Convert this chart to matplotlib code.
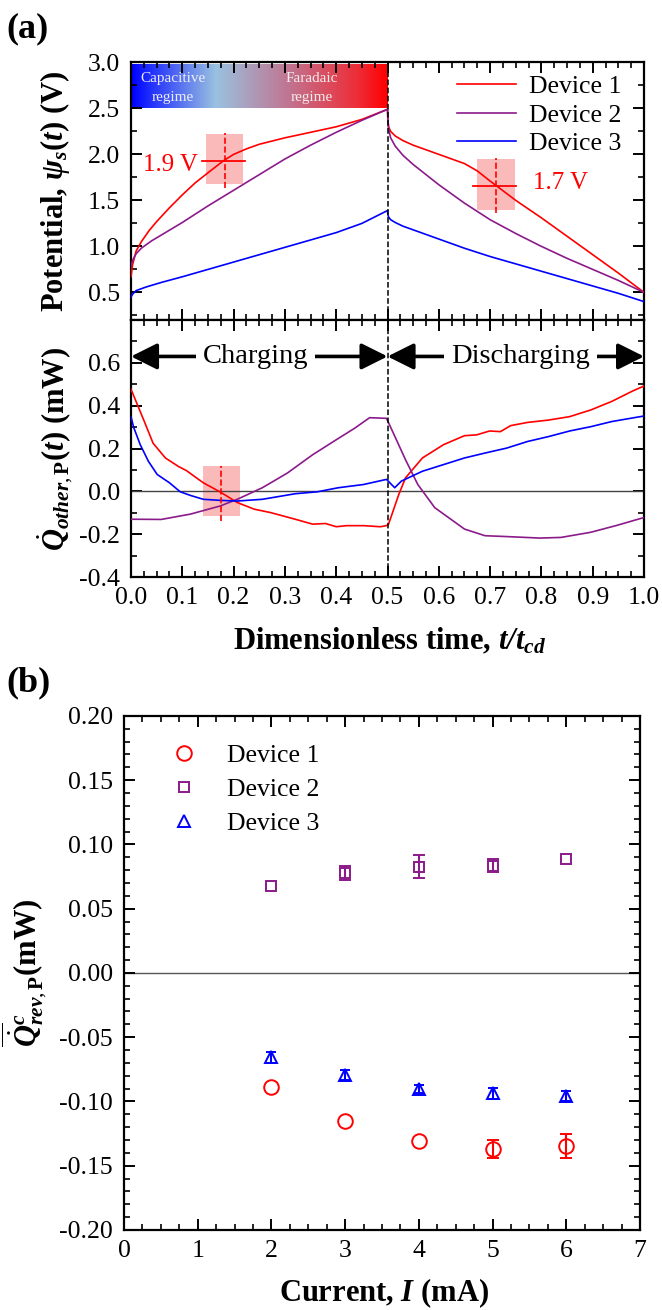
import numpy as np
import matplotlib
matplotlib.use('Agg')
import matplotlib.pyplot as plt
from matplotlib.ticker import MultipleLocator, AutoMinorLocator, FormatStrFormatter
from matplotlib.colors import LinearSegmentedColormap
from matplotlib.patches import Rectangle

plt.rcParams['font.family'] = ['Liberation Serif', 'DejaVu Serif']
plt.rcParams['mathtext.fontset'] = 'custom'
plt.rcParams['mathtext.rm'] = 'Liberation Serif'
plt.rcParams['mathtext.it'] = 'Liberation Serif:italic'
plt.rcParams['mathtext.bf'] = 'Liberation Serif:bold'
plt.rcParams['mathtext.bfit'] = 'Liberation Serif:bold:italic'
plt.rcParams['axes.unicode_minus'] = False

# ---------------- data: panel (a) potentials ----------------
t_pot1_ch = [0, 0.003, 0.01, 0.02, 0.035, 0.05, 0.075, 0.1, 0.125, 0.15, 0.18, 0.2, 0.225, 0.25, 0.3, 0.35, 0.4, 0.45, 0.5]
v_pot1_ch = [0.67, 0.80, 0.95, 1.05, 1.17, 1.27, 1.42, 1.56, 1.69, 1.80, 1.93, 2.00, 2.06, 2.11, 2.18, 2.24, 2.30, 2.38, 2.49]
t_pot1_dis = [0.5, 0.5005, 0.502, 0.506, 0.515, 0.53, 0.55, 0.6, 0.65, 0.675, 0.7, 0.75, 0.8, 0.85, 0.9, 0.95, 1.0]
v_pot1_dis = [2.49, 2.40, 2.30, 2.25, 2.20, 2.15, 2.10, 2.00, 1.90, 1.82, 1.71, 1.50, 1.31, 1.11, 0.91, 0.71, 0.50]

t_pot2_ch = [0, 0.003, 0.01, 0.02, 0.04, 0.07, 0.1, 0.15, 0.2, 0.25, 0.3, 0.35, 0.4, 0.45, 0.5]
v_pot2_ch = [0.78, 0.85, 0.92, 0.98, 1.06, 1.16, 1.26, 1.44, 1.61, 1.78, 1.95, 2.10, 2.24, 2.37, 2.49]
t_pot2_dis = [0.5, 0.5005, 0.502, 0.506, 0.515, 0.53, 0.55, 0.6, 0.65, 0.7, 0.75, 0.8, 0.85, 0.9, 0.95, 1.0]
v_pot2_dis = [2.49, 2.40, 2.28, 2.18, 2.09, 1.99, 1.89, 1.67, 1.47, 1.29, 1.14, 1.00, 0.87, 0.75, 0.63, 0.50]

t_pot3_ch = [0, 0.003, 0.01, 0.03, 0.06, 0.1, 0.15, 0.2, 0.25, 0.3, 0.35, 0.4, 0.45, 0.5]
v_pot3_ch = [0.45, 0.48, 0.52, 0.56, 0.61, 0.67, 0.75, 0.83, 0.91, 0.99, 1.07, 1.15, 1.25, 1.39]
t_pot3_dis = [0.5, 0.5005, 0.502, 0.506, 0.515, 0.53, 0.55, 0.6, 0.65, 0.7, 0.75, 0.8, 0.85, 0.9, 0.95, 1.0]
v_pot3_dis = [1.39, 1.35, 1.32, 1.29, 1.26, 1.22, 1.18, 1.08, 0.98, 0.89, 0.81, 0.73, 0.65, 0.57, 0.49, 0.40]

# ---------------- data: panel (a) Q_other ----------------
t_q1 = [0, 0.026, 0.043, 0.067, 0.092, 0.108, 0.141, 0.174, 0.207, 0.24, 0.272, 0.32, 0.354, 0.379, 0.4, 0.42,
        0.453, 0.486, 0.498, 0.502, 0.522, 0.535, 0.568, 0.609, 0.65, 0.674, 0.699, 0.72, 0.74, 0.773, 0.814,
        0.855, 0.896, 0.937, 0.978, 1.0]
q1 = [0.477, 0.326, 0.225, 0.156, 0.117, 0.097, 0.04, -0.003, -0.052, -0.083, -0.099, -0.13, -0.153, -0.15, -0.165, -0.16,
      -0.16, -0.165, -0.16, -0.153, -0.014, 0.063, 0.156, 0.218, 0.26, 0.264, 0.282, 0.279, 0.307, 0.322, 0.333,
      0.349, 0.38, 0.42, 0.469, 0.492]

t_q2 = [0, 0.059, 0.116, 0.174, 0.207, 0.256, 0.305, 0.354, 0.4, 0.436, 0.465, 0.498, 0.51, 0.535, 0.559, 0.592,
        0.65, 0.69, 0.732, 0.797, 0.838, 0.896, 0.945, 1.0]
q2 = [-0.13, -0.131, -0.106, -0.068, -0.037, 0.017, 0.086, 0.171, 0.241, 0.295, 0.344, 0.341, 0.279, 0.148, 0.032, -0.076,
      -0.176, -0.207, -0.211, -0.218, -0.215, -0.191, -0.16, -0.122]

t_q3 = [0, 0.005, 0.018, 0.034, 0.051, 0.075, 0.096, 0.116, 0.141, 0.174, 0.207, 0.256, 0.32, 0.363, 0.404, 0.453,
        0.498, 0.514, 0.527, 0.568, 0.609, 0.65, 0.69, 0.732, 0.773, 0.814, 0.855, 0.896, 0.937, 1.0]
q3 = [0.349, 0.3, 0.218, 0.14, 0.079, 0.04, -0.002, -0.019, -0.037, -0.042, -0.045, -0.037, -0.011, -0.002, 0.017, 0.032,
      0.056, 0.017, 0.048, 0.094, 0.125, 0.156, 0.179, 0.202, 0.233, 0.256, 0.282, 0.302, 0.326, 0.352]

# ---------------- data: panel (b) ----------------
current = [2, 3, 4, 5, 6]
qrev_d1 = [-0.0891, -0.1153, -0.1306, -0.1373, -0.1347]
err_d1 = [np.nan, np.nan, np.nan, 0.007, 0.0095]
qrev_d2 = [0.068, 0.0775, 0.0827, 0.0835, 0.0887]
err_d2 = [np.nan, 0.0055, 0.009, 0.005, np.nan]
qrev_d3 = [-0.0658, -0.0795, -0.0904, -0.0938, -0.0956]
err_d3 = [0.004, 0.004, 0.003, 0.004, 0.004]

labels = ['Device 1', 'Device 2', 'Device 3']
colors = ['#FF0000', '#8B1A8B', '#0000FF']
b_yticks = [-0.20, -0.15, -0.10, -0.05, 0.00, 0.05, 0.10, 0.15, 0.20]
b_yticklabels = ['-0.20', '-0.15', '-0.10', '-0.05', '0.00', '0.05', '0.10', '0.15', '0.20']

TICK_FS = 18.5
LABEL_FS = 22

fig = plt.figure(figsize=(6.62, 13.10), dpi=100)
ax1 = fig.add_axes([0.1979, 0.7557, 0.775, 0.1967])
ax2 = fig.add_axes([0.1979, 0.5595, 0.775, 0.1962], sharex=ax1)
ax3 = fig.add_axes([0.1873, 0.0611, 0.7795, 0.3924])


def style(ax):
    for s in ax.spines.values():
        s.set_linewidth(1.6)
    ax.tick_params(which='both', direction='in', top=True, right=True, labelsize=TICK_FS, width=1.4)
    ax.tick_params(which='major', length=8)
    ax.tick_params(which='minor', length=4.5, width=1.2)
    ax.tick_params(axis='x', pad=7)
    ax.tick_params(axis='y', pad=8)


# ---- (a1) potentials ----
lw = 1.2
ax1.plot(t_pot1_ch + t_pot1_dis, v_pot1_ch + v_pot1_dis, color=colors[0], lw=lw, label=labels[0], zorder=3)
ax1.plot(t_pot2_ch + t_pot2_dis, v_pot2_ch + v_pot2_dis, color=colors[1], lw=lw, label=labels[1], zorder=3)
ax1.plot(t_pot3_ch + t_pot3_dis, v_pot3_ch + v_pot3_dis, color=colors[2], lw=lw, label=labels[2], zorder=3)

# gradient bar
cmap = LinearSegmentedColormap.from_list('regime', [
    (0.0, (0.0, 0.0, 1.0)),
    (0.06, (0.1, 0.15, 1.0)),
    (0.33, (0.60, 0.76, 0.88)),
    (0.62, (0.76, 0.45, 0.56)),
    (0.88, (0.93, 0.18, 0.22)),
    (1.0, (1.0, 0.0, 0.0))])
grad = np.linspace(0, 1, 256).reshape(1, -1)
ax1.imshow(grad, extent=[0.0, 0.5, 2.5, 2.97], aspect='auto', cmap=cmap, zorder=1, origin='lower')
ax1.set_xlim(0, 1.0)
ax1.set_ylim(0.2, 3.0)
ax1.set_yticks([0.5, 1.0, 1.5, 2.0, 2.5, 3.0])
ax1.yaxis.set_minor_locator(AutoMinorLocator(2))
ax1.yaxis.set_major_formatter(FormatStrFormatter('%.1f'))
ax1.set_xticks(np.arange(0, 1.01, 0.1))
ax1.xaxis.set_minor_locator(AutoMinorLocator(4))
style(ax1)
ax1.tick_params(axis='x', labelbottom=False)

ax1.text(0.082, 2.83, 'Capacitive', color='#EDEDF5', ha='center', va='center', fontsize=11, zorder=2)
ax1.text(0.082, 2.62, 'regime', color='#EDEDF5', ha='center', va='center', fontsize=11, zorder=2)
ax1.text(0.353, 2.83, 'Faradaic', color='#F2ECEC', ha='center', va='center', fontsize=11, zorder=2)
ax1.text(0.353, 2.62, 'regime', color='#F2ECEC', ha='center', va='center', fontsize=11, zorder=2)

# annotations
pink = '#FBBABA'
ax1.add_patch(Rectangle((0.146, 1.68), 0.072, 0.54, facecolor=pink, edgecolor='none', zorder=1))
ax1.plot([0.139, 0.223], [1.93, 1.93], color='red', lw=1.3, zorder=4)
ax1.plot([0.183, 0.183], [1.63, 2.23], color='red', ls='--', lw=1.2, zorder=4)
ax1.text(0.13, 1.89, '1.9 V', color='red', ha='right', va='center', fontsize=18)
ax1.add_patch(Rectangle((0.675, 1.40), 0.073, 0.55, facecolor=pink, edgecolor='none', zorder=1))
ax1.plot([0.667, 0.750], [1.655, 1.655], color='red', lw=1.3, zorder=4)
ax1.plot([0.711, 0.711], [1.36, 1.96], color='red', ls='--', lw=1.2, zorder=4)
ax1.text(0.783, 1.69, '1.7 V', color='red', ha='left', va='center', fontsize=18)

ax1.axvline(0.5, color='k', ls='--', lw=1.1, zorder=5)
ax1.legend(loc='upper right', bbox_to_anchor=(0.985, 1.01), frameon=False, fontsize=18.5,
           handlelength=2.3, handletextpad=0.5, labelspacing=0.22, borderaxespad=0.2)
ax1.set_ylabel(r'Potential, $\mathbfit{\psi}_{\mathbfit{s}}$($\mathbfit{t}$) (V)', fontsize=LABEL_FS, fontweight='bold')
ax1.yaxis.set_label_coords(-0.115, 0.5)

# ---- (a2) Q_other ----
ax2.plot(t_q1, q1, color=colors[0], lw=lw, zorder=3)
ax2.plot(t_q2, q2, color=colors[1], lw=lw, zorder=3)
ax2.plot(t_q3, q3, color=colors[2], lw=lw, zorder=3)
ax2.axhline(0, color='#444444', lw=1.0, zorder=2)
ax2.axvline(0.5, color='k', ls='--', lw=1.1, zorder=5)
ax2.set_ylim(-0.4, 0.8)
ax2.set_yticks([-0.4, -0.2, 0.0, 0.2, 0.4, 0.6])
ax2.yaxis.set_minor_locator(AutoMinorLocator(2))
ax2.yaxis.set_major_formatter(FormatStrFormatter('%.1f'))
ax2.set_xlim(0, 1.0)
ax2.set_xticks(np.arange(0, 1.01, 0.1))
ax2.xaxis.set_minor_locator(AutoMinorLocator(4))
ax2.xaxis.set_major_formatter(FormatStrFormatter('%.1f'))
style(ax2)
ax2.add_patch(Rectangle((0.140, -0.114), 0.072, 0.231, facecolor=pink, edgecolor='none', zorder=1))
ax2.plot([0.176, 0.176], [-0.137, 0.12], color='red', ls='--', lw=1.2, zorder=4)

arrow_kw = dict(arrowstyle='<|-|>,head_length=0.8,head_width=0.4', lw=2.6, color='k',
                shrinkA=0, shrinkB=0, mutation_scale=20)
ax2.annotate('', xy=(0.0, 0.63), xytext=(0.5, 0.63), arrowprops=arrow_kw, zorder=4)
ax2.annotate('', xy=(0.5, 0.63), xytext=(1.0, 0.63), arrowprops=arrow_kw, zorder=4)
ax2.text(0.243, 0.63, 'Charging', ha='center', va='center', fontsize=20.5, zorder=6,
         bbox=dict(facecolor='white', edgecolor='none', pad=5))
ax2.text(0.759, 0.63, 'Discharging', ha='center', va='center', fontsize=20.5, zorder=6,
         bbox=dict(facecolor='white', edgecolor='none', pad=5))
ax2.set_ylabel(r'$\dot{\mathbfit{Q}}_{\mathbfit{other},\mathbf{P}}$($\mathbfit{t}$) (mW)',
               fontsize=LABEL_FS, fontweight='bold')
ax2.yaxis.set_label_coords(-0.109, 0.5)
ax2.set_xlabel(r'Dimensionless time, $\mathbfit{t/t_{cd}}$', fontsize=LABEL_FS, fontweight='bold')
ax2.xaxis.set_label_coords(0.505, -0.19)
ax2.xaxis.label.set_va('top')

# ---- (b) ----
ax3.errorbar(current, qrev_d1, yerr=err_d1, fmt='o', color=colors[0], mfc='none', ms=10.5, mew=1.4,
             capsize=4, capthick=1.5, elinewidth=1.5, label=labels[0])
ax3.errorbar(current, qrev_d2, yerr=err_d2, fmt='s', color=colors[1], mfc='none', ms=7.5, mew=1.4,
             capsize=4, capthick=1.5, elinewidth=1.5, label=labels[1])
ax3.errorbar(current, qrev_d3, yerr=err_d3, fmt='^', color=colors[2], mfc='none', ms=8.5, mew=1.4,
             capsize=3.5, capthick=1.5, elinewidth=1.5, label=labels[2])
ax3.axhline(0, color='#555555', lw=1.0, zorder=1)
ax3.set_xlim(0, 7)
ax3.set_ylim(-0.20, 0.20)
ax3.set_xticks(np.arange(0, 8, 1))
ax3.xaxis.set_minor_locator(AutoMinorLocator(4))
ax3.set_yticks(b_yticks)
ax3.set_yticklabels(b_yticklabels)
ax3.yaxis.set_minor_locator(AutoMinorLocator(5))
style(ax3)
h, l = ax3.get_legend_handles_labels()
h = [hh[0] for hh in h]
ax3.legend(h, l, loc='upper left', bbox_to_anchor=(0.035, 0.99), frameon=False, fontsize=18.5,
           handlelength=1.5, handletextpad=0.9, labelspacing=0.42, numpoints=1)
ax3.set_ylabel(r'$\overline{\dot{\mathbfit{Q}}}^{\mathbfit{c}}_{\mathbfit{rev},\mathbf{P}}$(mW)',
               fontsize=LABEL_FS, fontweight='bold')
ax3.yaxis.set_label_coords(-0.145, 0.5)
ax3.set_xlabel(r'Current, $\mathbfit{I}$ (mA)', fontsize=LABEL_FS, fontweight='bold')
ax3.xaxis.set_label_coords(0.504, -0.09)
ax3.xaxis.label.set_va('top')

fig.text(6 / 662, 1 - 12 / 1310, '(a)', fontsize=26, fontweight='bold', va='top', ha='left')
fig.text(6 / 662, 1 - 666 / 1310, '(b)', fontsize=26, fontweight='bold', va='top', ha='left')

fig.savefig('out.png', dpi=100)
